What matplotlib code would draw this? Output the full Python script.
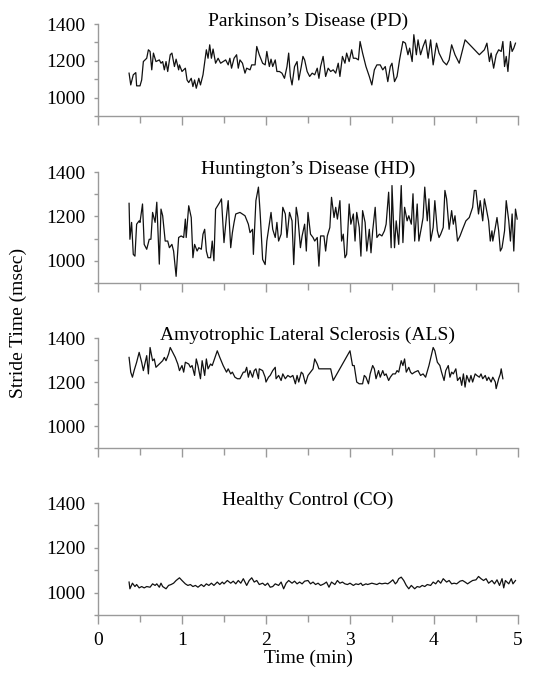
"""Stride time series for four gait groups"""
import matplotlib

matplotlib.use("Agg")
import matplotlib.pyplot as plt
from matplotlib.ticker import MultipleLocator

plt.rcParams["font.family"] = ["Liberation Serif", "DejaVu Serif"]

# Parkinson's disease
pd_time = [0.37, 0.39, 0.42, 0.45, 0.46, 0.50, 0.52, 0.54, 0.58, 0.60, 0.62, 0.64, 0.66, 0.69,
           0.73, 0.75, 0.77, 0.79, 0.81, 0.83, 0.86, 0.88, 0.91, 0.93, 0.96, 0.97, 1.00, 1.04,
           1.06, 1.08, 1.11, 1.13, 1.15, 1.17, 1.20, 1.22, 1.25, 1.29, 1.31, 1.33, 1.35, 1.37,
           1.40, 1.43, 1.46, 1.49, 1.52, 1.55, 1.57, 1.59, 1.62, 1.65, 1.67, 1.69, 1.72, 1.75,
           1.77, 1.81, 1.83, 1.87, 1.89, 1.92, 1.96, 1.99, 2.01, 2.04, 2.06, 2.08, 2.11, 2.13,
           2.16, 2.19, 2.22, 2.25, 2.27, 2.29, 2.31, 2.34, 2.37, 2.39, 2.42, 2.44, 2.46, 2.49,
           2.52, 2.55, 2.58, 2.61, 2.63, 2.65, 2.68, 2.71, 2.74, 2.77, 2.80, 2.83, 2.86, 2.88,
           2.91, 2.94, 2.96, 2.99, 3.02, 3.04, 3.07, 3.10, 3.12, 3.15, 3.19, 3.23, 3.26, 3.29,
           3.32, 3.36, 3.39, 3.42, 3.45, 3.48, 3.50, 3.53, 3.56, 3.59, 3.63, 3.66, 3.69, 3.71,
           3.74, 3.76, 3.79, 3.81, 3.84, 3.87, 3.90, 3.93, 3.96, 3.99, 4.03, 4.06, 4.11, 4.15,
           4.18, 4.21, 4.25, 4.30, 4.37, 4.54, 4.60, 4.63, 4.66, 4.68, 4.71, 4.74, 4.77, 4.80,
           4.82, 4.84, 4.86, 4.88, 4.91, 4.93, 4.95, 4.97]
pd_stride = [1133, 1069, 1124, 1136, 1064, 1064, 1096, 1196, 1214, 1260, 1251, 1151, 1242, 1196,
             1205, 1187, 1196, 1151, 1196, 1142, 1233, 1242, 1169, 1209, 1151, 1178, 1142, 1160,
             1096, 1082, 1105, 1060, 1096, 1051, 1105, 1069, 1124, 1260, 1214, 1287, 1214, 1264,
             1187, 1214, 1187, 1196, 1205, 1178, 1214, 1160, 1214, 1233, 1160, 1205, 1187, 1133,
             1160, 1151, 1178, 1178, 1278, 1233, 1187, 1178, 1251, 1169, 1209, 1169, 1205, 1142,
             1142, 1133, 1105, 1169, 1242, 1115, 1069, 1169, 1196, 1096, 1169, 1224, 1205, 1142,
             1115, 1133, 1124, 1160, 1105, 1169, 1224, 1115, 1160, 1142, 1151, 1133, 1187, 1115,
             1224, 1187, 1242, 1196, 1260, 1214, 1214, 1205, 1305, 1242, 1169, 1115, 1069, 1151,
             1178, 1178, 1151, 1169, 1087, 1169, 1187, 1087, 1115, 1205, 1305, 1296, 1233, 1269,
             1196, 1342, 1233, 1314, 1233, 1278, 1314, 1214, 1314, 1178, 1296, 1242, 1196, 1178,
             1205, 1287, 1233, 1187, 1314, 1233, 1260, 1296, 1196, 1242, 1160, 1233, 1260, 1251,
             1305, 1169, 1224, 1142, 1305, 1251, 1269, 1296]

# Huntington's disease
hd_time = [0.37, 0.38, 0.40, 0.42, 0.44, 0.46, 0.49, 0.50, 0.53, 0.55, 0.58, 0.61, 0.63, 0.65,
           0.68, 0.70, 0.73, 0.75, 0.77, 0.80, 0.83, 0.85, 0.88, 0.90, 0.93, 0.96, 0.99, 1.02,
           1.04, 1.05, 1.08, 1.11, 1.13, 1.15, 1.18, 1.20, 1.23, 1.25, 1.27, 1.29, 1.31, 1.34,
           1.36, 1.38, 1.40, 1.45, 1.47, 1.50, 1.53, 1.55, 1.58, 1.60, 1.62, 1.64, 1.69, 1.75,
           1.79, 1.81, 1.84, 1.85, 1.88, 1.91, 1.93, 1.96, 1.99, 2.01, 2.04, 2.06, 2.08, 2.11,
           2.13, 2.15, 2.18, 2.20, 2.23, 2.25, 2.28, 2.31, 2.33, 2.36, 2.38, 2.41, 2.43, 2.46,
           2.48, 2.50, 2.53, 2.56, 2.58, 2.61, 2.63, 2.65, 2.69, 2.71, 2.73, 2.76, 2.78, 2.81,
           2.83, 2.85, 2.88, 2.90, 2.92, 2.94, 2.96, 2.99, 3.01, 3.04, 3.06, 3.08, 3.11, 3.13,
           3.15, 3.18, 3.20, 3.23, 3.25, 3.27, 3.30, 3.32, 3.35, 3.38, 3.41, 3.43, 3.46, 3.49,
           3.50, 3.53, 3.55, 3.58, 3.61, 3.63, 3.65, 3.68, 3.70, 3.73, 3.75, 3.77, 3.80, 3.82,
           3.85, 3.87, 3.89, 3.92, 3.94, 3.96, 3.99, 4.01, 4.04, 4.06, 4.08, 4.11, 4.13, 4.15,
           4.18, 4.21, 4.23, 4.25, 4.28, 4.31, 4.34, 4.38, 4.42, 4.46, 4.48, 4.50, 4.53, 4.55,
           4.58, 4.60, 4.62, 4.65, 4.67, 4.69, 4.70, 4.73, 4.75, 4.77, 4.79, 4.81, 4.84, 4.86,
           4.89, 4.91, 4.93, 4.95, 4.97, 4.99]
hd_stride = [1259, 1097, 1173, 1029, 1021, 1165, 1180, 1173, 1256, 1074, 1052, 1097, 1097, 1218,
             1173, 1264, 985, 1233, 1203, 1089, 1089, 1059, 1074, 1044, 930, 1105, 1112, 1105,
             1188, 1105, 1248, 1195, 1014, 1074, 1044, 1059, 1052, 1120, 1142, 1044, 1014, 1014,
             1089, 1000, 1233, 1264, 1279, 1082, 1203, 1271, 1059, 1127, 1173, 1211, 1218, 1203,
             1165, 1127, 1142, 1029, 1271, 1332, 1218, 1006, 983, 1089, 1165, 1218, 1142, 1105,
             1173, 1089, 1120, 1241, 1211, 1105, 1218, 1180, 983, 1241, 1195, 1059, 1112, 1165,
             1044, 1218, 1120, 1105, 1089, 1105, 976, 1112, 1112, 1044, 1112, 1150, 1286, 1195,
             1241, 1188, 1271, 1089, 1120, 1014, 1029, 1256, 1165, 1211, 1089, 1218, 1150, 1021,
             1226, 1173, 1044, 1142, 1036, 1135, 1241, 1105, 1120, 1112, 1135, 1165, 1309, 1059,
             1339, 1059, 1180, 1074, 1339, 1082, 1241, 1180, 1203, 1165, 1302, 1089, 1256, 1089,
             1150, 1195, 1332, 1180, 1279, 1089, 1150, 1271, 1135, 1105, 1120, 1150, 1317, 1279,
             1142, 1226, 1165, 1203, 1089, 1112, 1142, 1180, 1195, 1241, 1317, 1317, 1211, 1271,
             1180, 1279, 1241, 1180, 1089, 1135, 1089, 1150, 1195, 1135, 1044, 1059, 1135, 1271,
             1180, 1089, 1211, 1044, 1233, 1188]

# Amyotrophic lateral sclerosis
als_time = [0.37, 0.39, 0.41, 0.43, 0.46, 0.49, 0.52, 0.54, 0.58, 0.60, 0.62, 0.65, 0.67, 0.69,
            0.73, 0.77, 0.79, 0.81, 0.84, 0.86, 0.89, 0.92, 0.95, 0.97, 1.00, 1.02, 1.04, 1.08,
            1.10, 1.12, 1.15, 1.17, 1.19, 1.22, 1.24, 1.27, 1.29, 1.31, 1.34, 1.36, 1.42, 1.45,
            1.49, 1.53, 1.55, 1.58, 1.60, 1.63, 1.66, 1.69, 1.73, 1.75, 1.77, 1.79, 1.81, 1.84,
            1.86, 1.88, 1.91, 1.92, 1.96, 1.99, 2.00, 2.03, 2.05, 2.08, 2.11, 2.12, 2.15, 2.18,
            2.20, 2.23, 2.26, 2.29, 2.32, 2.35, 2.37, 2.39, 2.42, 2.44, 2.47, 2.50, 2.53, 2.56,
            2.58, 2.61, 2.63, 2.70, 2.77, 2.80, 3.00, 3.03, 3.05, 3.08, 3.11, 3.15, 3.17, 3.19,
            3.22, 3.24, 3.27, 3.29, 3.31, 3.34, 3.36, 3.39, 3.41, 3.43, 3.46, 3.48, 3.51, 3.54,
            3.56, 3.58, 3.61, 3.63, 3.65, 3.67, 3.70, 3.72, 3.74, 3.77, 3.81, 3.84, 3.87, 3.90,
            3.94, 3.99, 4.01, 4.04, 4.07, 4.09, 4.12, 4.14, 4.17, 4.19, 4.21, 4.23, 4.26, 4.28,
            4.31, 4.33, 4.35, 4.37, 4.39, 4.42, 4.44, 4.46, 4.49, 4.51, 4.54, 4.56, 4.58, 4.61,
            4.63, 4.65, 4.68, 4.70, 4.73, 4.74, 4.77, 4.79, 4.80, 4.82]
als_stride = [1312, 1245, 1222, 1252, 1290, 1335, 1290, 1252, 1320, 1237, 1357, 1297, 1305, 1267,
              1282, 1297, 1312, 1297, 1327, 1357, 1335, 1312, 1282, 1252, 1275, 1245, 1290, 1282,
              1267, 1275, 1230, 1305, 1275, 1215, 1297, 1230, 1305, 1260, 1282, 1275, 1342, 1312,
              1275, 1245, 1260, 1237, 1245, 1222, 1215, 1215, 1245, 1245, 1267, 1222, 1252, 1222,
              1252, 1260, 1215, 1260, 1252, 1222, 1200, 1222, 1230, 1252, 1267, 1215, 1230, 1207,
              1237, 1215, 1230, 1222, 1230, 1192, 1230, 1200, 1245, 1237, 1192, 1230, 1245, 1260,
              1305, 1282, 1260, 1260, 1260, 1207, 1342, 1275, 1275, 1200, 1192, 1192, 1230, 1222,
              1192, 1237, 1275, 1260, 1215, 1252, 1222, 1252, 1230, 1237, 1207, 1222, 1237, 1237,
              1252, 1245, 1297, 1275, 1305, 1245, 1267, 1245, 1237, 1245, 1252, 1230, 1237, 1222,
              1275, 1357, 1342, 1290, 1275, 1245, 1207, 1252, 1275, 1222, 1245, 1237, 1260, 1207,
              1222, 1185, 1237, 1177, 1230, 1200, 1230, 1200, 1237, 1230, 1222, 1237, 1215, 1230,
              1207, 1222, 1200, 1222, 1200, 1170, 1215, 1237, 1260, 1215]

# Healthy control
co_time = [0.37, 0.38, 0.41, 0.44, 0.46, 0.49, 0.52, 0.55, 0.58, 0.62, 0.65, 0.68, 0.70, 0.73,
           0.75, 0.77, 0.81, 0.84, 0.87, 0.90, 0.93, 0.97, 1.00, 1.04, 1.07, 1.10, 1.13, 1.16,
           1.19, 1.23, 1.26, 1.29, 1.32, 1.35, 1.38, 1.42, 1.45, 1.48, 1.50, 1.54, 1.58, 1.61,
           1.64, 1.67, 1.70, 1.73, 1.77, 1.80, 1.83, 1.86, 1.89, 1.92, 1.96, 1.99, 2.02, 2.05,
           2.08, 2.11, 2.15, 2.18, 2.21, 2.24, 2.27, 2.31, 2.34, 2.37, 2.40, 2.43, 2.46, 2.50,
           2.53, 2.56, 2.59, 2.62, 2.65, 2.69, 2.72, 2.75, 2.78, 2.82, 2.85, 2.88, 2.91, 2.94,
           2.97, 3.00, 3.04, 3.07, 3.10, 3.13, 3.15, 3.19, 3.21, 3.26, 3.29, 3.32, 3.35, 3.38,
           3.42, 3.45, 3.48, 3.51, 3.54, 3.56, 3.58, 3.61, 3.64, 3.67, 3.70, 3.73, 3.77, 3.80,
           3.83, 3.86, 3.89, 3.92, 3.96, 3.99, 4.02, 4.05, 4.08, 4.11, 4.15, 4.18, 4.21, 4.24,
           4.27, 4.31, 4.34, 4.37, 4.40, 4.43, 4.46, 4.50, 4.53, 4.56, 4.59, 4.62, 4.65, 4.69,
           4.72, 4.75, 4.78, 4.81, 4.83, 4.85, 4.89, 4.92, 4.94, 4.97]
co_stride = [1047, 1017, 1042, 1027, 1036, 1021, 1027, 1021, 1027, 1024, 1039, 1032, 1039, 1024,
             1042, 1027, 1017, 1032, 1036, 1042, 1054, 1066, 1054, 1039, 1032, 1036, 1027, 1032,
             1024, 1036, 1027, 1039, 1032, 1042, 1032, 1047, 1036, 1047, 1039, 1054, 1042, 1051,
             1039, 1054, 1042, 1062, 1032, 1054, 1066, 1047, 1054, 1036, 1042, 1032, 1042, 1024,
             1027, 1039, 1032, 1047, 1017, 1042, 1054, 1042, 1051, 1039, 1047, 1039, 1051, 1054,
             1039, 1047, 1036, 1042, 1032, 1039, 1047, 1024, 1047, 1036, 1054, 1042, 1047, 1039,
             1036, 1042, 1032, 1039, 1036, 1042, 1032, 1039, 1036, 1042, 1039, 1036, 1042, 1039,
             1042, 1039, 1047, 1057, 1039, 1047, 1062, 1069, 1054, 1032, 1017, 1032, 1017, 1027,
             1024, 1032, 1027, 1036, 1032, 1047, 1039, 1054, 1042, 1062, 1047, 1054, 1039, 1042,
             1039, 1051, 1054, 1047, 1039, 1047, 1054, 1057, 1072, 1062, 1054, 1062, 1042, 1054,
             1039, 1057, 1032, 1062, 1021, 1054, 1039, 1062, 1039, 1054]

titles = [
    "Parkinson\u2019s Disease (PD)",
    "Huntington\u2019s Disease (HD)",
    "Amyotrophic Lateral Sclerosis (ALS)",
    "Healthy Control (CO)",
]
series = [(pd_time, pd_stride), (hd_time, hd_stride), (als_time, als_stride), (co_time, co_stride)]

# axes boxes in figure fractions: left, bottom, width, height
boxes = [
    [0.1772, 0.8276, 0.7595, 0.1367],
    [0.1772, 0.5795, 0.7595, 0.1649],
    [0.1772, 0.3343, 0.7595, 0.1634],
    [0.1772, 0.0862, 0.7595, 0.1664],
]

grey = "#9a9a9a"
fs = 14
fig = plt.figure(figsize=(5.53, 6.73), dpi=100)

for i, (box, title, (t, v)) in enumerate(zip(boxes, titles, series)):
    ax = fig.add_axes(box)
    ax.plot(t, v, color="#111111", lw=0.9)
    ax.set_xlim(0, 5)
    ax.set_ylim(900, 1400)
    for side in ["top", "right"]:
        ax.spines[side].set_visible(False)
    for side in ["left", "bottom"]:
        ax.spines[side].set_color(grey)
        ax.spines[side].set_linewidth(1.0)
    ax.set_yticks([1000, 1200, 1400])
    ax.yaxis.set_minor_locator(MultipleLocator(100))
    ax.xaxis.set_major_locator(MultipleLocator(1))
    ax.xaxis.set_minor_locator(MultipleLocator(0.5))
    ax.tick_params(axis="y", which="both", direction="out", length=3, width=1.0,
                   color=grey, labelsize=fs, pad=6)
    ax.tick_params(axis="x", which="major", direction="out", length=6.5, width=1.0,
                   color=grey, labelsize=fs, pad=6)
    ax.tick_params(axis="x", which="minor", direction="out", length=5, width=1.0, color=grey)
    if i < 3:
        ax.tick_params(axis="x", labelbottom=False)
    else:
        ax.set_xlabel("Time (min)", fontsize=fs, labelpad=0)
    ax.annotate(title, xy=(0.5, 1.0), xycoords="axes fraction", xytext=(0, 2),
                textcoords="offset points", ha="center", va="center", fontsize=fs)

fig.text(0.033, 0.52, "Stride Time (msec)", rotation=90, ha="center", va="center", fontsize=fs)

fig.savefig("out.png", dpi=100)
